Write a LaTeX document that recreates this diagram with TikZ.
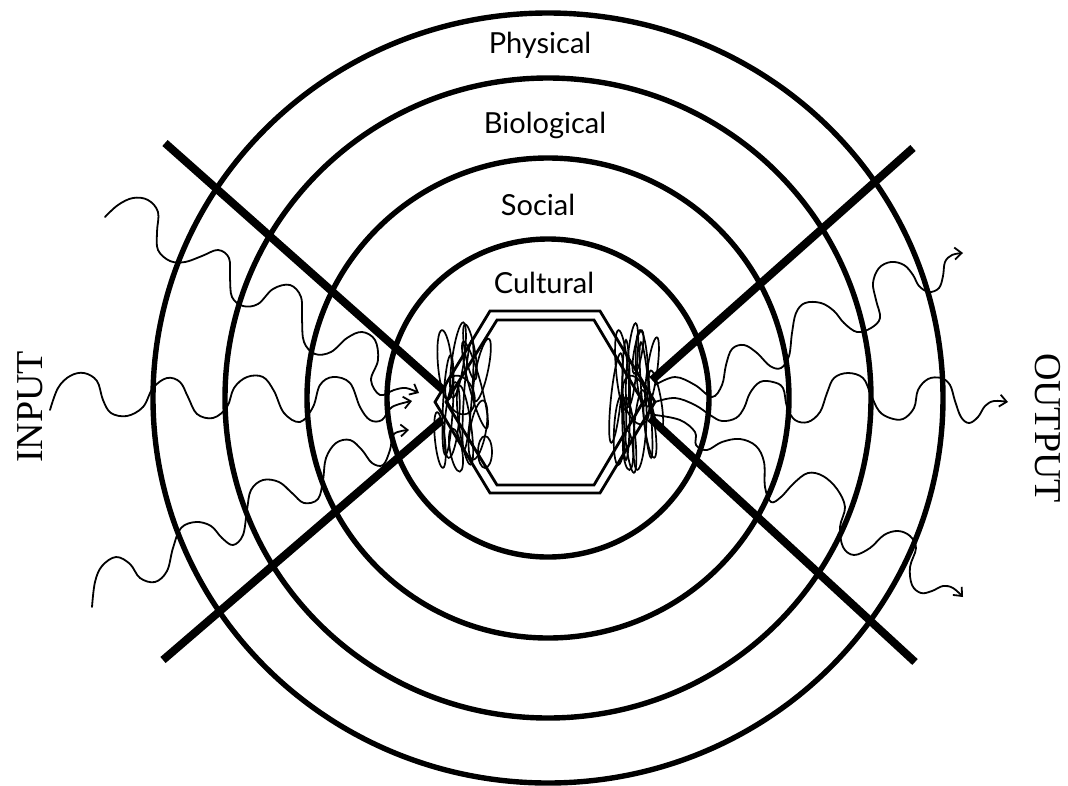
\documentclass[tikz,border=0pt]{standalone}
\usepackage{fontspec}
\usetikzlibrary{arrows.meta}
\newfontfamily\labfont{Lato}
\newfontfamily\iofont{Liberation Serif}
\tikzset{
  ring/.style={line width=5.4pt},
  cross/.style={line width=8pt},
  wave/.style={line width=1.8pt, line cap=round, line join=round},
  warrow/.style={wave, -{Straight Barb[length=7pt,width=12pt,line width=1.8pt]}},
  hexline/.style={line width=2.8pt, line join=miter},
  scrib/.style={line width=1.7pt},
  lab/.style={font=\labfont\fontsize{29}{31}\selectfont, anchor=base, inner sep=0pt},
  io/.style={font=\iofont\fontsize{38}{40}\selectfont, inner sep=0pt}
}
\begin{document}
\begin{tikzpicture}[x=1pt,y=-1pt]
\useasboundingbox (0,0) rectangle (1068,785);
\fill[white] (0,0) rectangle (1068,785);
\coordinate (c) at (548,398);
% rings
\draw[ring] (c) ellipse [x radius=395, y radius=385];
\draw[ring] (c) ellipse [x radius=323, y radius=320];
\draw[ring] (c) ellipse [x radius=241, y radius=240];
\draw[ring] (c) ellipse [x radius=161, y radius=159];
% cross lines
\coordinate (ul1) at (165,143); \coordinate (ul2) at (442,389);
\coordinate (ll1) at (163,660); \coordinate (ll2) at (442,420);
\coordinate (ur1) at (913,148); \coordinate (ur2) at (652,380);
\coordinate (lr1) at (915,662); \coordinate (lr2) at (650,418);
\draw[cross] (ul1) -- (ul2);
\draw[cross] (ll1) -- (ll2);
\draw[cross] (ur1) -- (ur2);
\draw[cross] (lr1) -- (lr2);
% hexagon (double)
\draw[hexline] (490,311) -- (600,311) -- (655,402) -- (600,493) -- (490,493) -- (435,402) -- cycle;
\draw[hexline] (497,320) -- (594,320) -- (643,402) -- (594,485) -- (497,485) -- (446,402) -- cycle;
% scribbles left
\foreach \x/\y/\a/\b/\r in {445/365/7/35/5, 458/360/6/38/-8, 470/352/5/28/10, 452/420/7/38/-5,
  465/425/6/40/8, 478/430/8/30/-10, 485/452/7/16/0, 460/395/14/20/20, 475/385/6/45/15,
  448/405/5/50/-3, 482/370/6/32/-12, 440/440/5/28/6, 468/395/4/55/-4, 456/450/6/22/10}
  \draw[scrib, rotate around={\r:(\x,\y)}] (\x,\y) ellipse [x radius=\a, y radius=\b];
% scribbles right
\foreach \x/\y/\a/\b/\r in {622/370/6/40/5, 632/365/5/42/-5, 642/368/6/38/3, 652/372/5/35/-8,
  620/430/6/35/-3, 630/435/5/38/6, 640/430/6/40/-4, 650/428/5/30/8, 636/400/12/25/15,
  626/400/4/60/0, 646/400/4/58/5, 616/398/5/45/-6, 656/400/5/30/10, 638/352/4/22/-10, 628/450/5/20/4}
  \draw[scrib, rotate around={\r:(\x,\y)}] (\x,\y) ellipse [x radius=\a, y radius=\b];
% input waves
\draw[warrow] plot[smooth, tension=0.6] coordinates {(105,217) (118,205) (133,198) (148,200) (158,212) (157,232) (158,250) (170,261) (185,262) (202,256) (218,250) (229,258) (230,278) (232,297) (243,306) (258,304) (273,289) (290,285) (301,297) (302,320) (304,342) (315,354) (331,352) (347,338) (362,332) (375,340) (378,360) (371,380) (380,395) (394,390) (406,388) (419,393)};
\draw[warrow] plot[smooth, tension=0.6] coordinates {(50,410) (58,388) (70,376) (84,373) (97,381) (103,400) (111,413) (127,416) (143,407) (153,388) (167,378) (180,382) (188,397) (197,414) (213,418) (227,407) (234,388) (247,377) (263,377) (274,391) (284,413) (300,422) (313,407) (320,385) (333,377) (350,383) (360,407) (370,420) (382,420) (392,407) (412,401)};
\draw[warrow] plot[smooth, tension=0.6] coordinates {(92,607) (95,582) (102,566) (116,557) (130,564) (140,578) (155,582) (167,571) (173,548) (181,528) (196,522) (211,526) (222,538) (233,545) (243,535) (247,510) (251,490) (263,480) (279,482) (292,493) (304,503) (318,499) (323,480) (326,458) (336,443) (350,440) (362,450) (372,463) (383,465) (390,450) (394,434) (409,430)};
% output waves
\draw[warrow] plot[smooth, tension=0.6] coordinates {(655,385) (675,377) (695,385) (712,397) (722,385) (726,365) (732,349) (744,345) (757,353) (770,366) (781,368) (789,356) (792,333) (796,313) (805,303) (821,303) (834,311) (844,323) (857,332) (871,328) (880,318) (876,300) (873,283) (879,268) (891,262) (904,265) (913,275) (919,286) (929,292) (939,288) (943,276) (945,262) (952,255) (963,253)};
\draw[warrow] plot[smooth, tension=0.6] coordinates {(655,402) (675,398) (695,405) (710,415) (722,421) (736,418) (744,408) (750,393) (760,382) (773,382) (783,388) (787,407) (795,420) (808,422) (820,412) (827,393) (834,378) (848,373) (863,378) (871,395) (879,411) (890,418) (903,419) (914,408) (918,390) (928,379) (941,378) (950,385) (955,401) (961,417) (969,423) (978,417) (985,406) (994,401) (1008,402)};
\draw[warrow] plot[smooth, tension=0.6] coordinates {(655,415) (680,420) (695,432) (696,445) (707,450) (722,442) (740,439) (756,446) (764,462) (765,487) (771,502) (781,497) (794,483) (808,473) (823,476) (837,489) (845,507) (840,527) (843,547) (854,555) (870,548) (884,535) (898,531) (910,536) (916,548) (910,567) (912,585) (921,593) (932,591) (943,586) (953,588) (963,597)};
% labels
\node[lab] (phys) at (540,53) {Physical};
\node[lab] (bio) at (545,133) {Biological};
\node[lab] (soc) at (538,215) {Social};
\node[lab] (cult) at (544,293) {Cultural};
\node[io, rotate=90] (in) at (30,407) {INPUT};
\node[io, rotate=-90] (out) at (1048,428) {OUTPUT};
\end{tikzpicture}
\end{document}
